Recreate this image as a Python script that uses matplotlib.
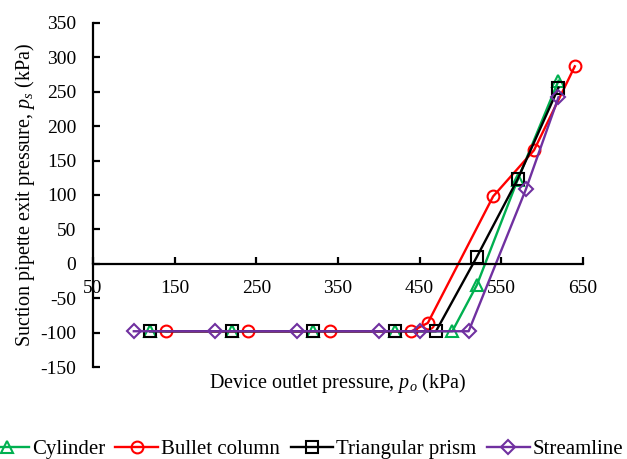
import matplotlib
matplotlib.use("Agg")
import matplotlib.pyplot as plt

plt.rcParams["font.family"] = ["Liberation Serif", "DejaVu Serif"]
plt.rcParams["mathtext.fontset"] = "custom"
plt.rcParams["mathtext.rm"] = "Liberation Serif"
plt.rcParams["mathtext.it"] = "Liberation Serif:italic"
plt.rcParams["axes.unicode_minus"] = False

# Device outlet pressure (kPa) and suction pipette exit pressure (kPa)
cyl_x = [120, 220, 320, 420, 490, 520, 570, 620]
cyl_y = [-98, -98, -98, -98, -98, -31, 122, 266]

bullet_x = [140, 240, 340, 440, 460, 540, 590, 640]
bullet_y = [-98, -98, -98, -98, -86, 98, 165, 287]

prism_x = [120, 220, 320, 420, 470, 520, 570, 620]
prism_y = [-98, -98, -98, -98, -98, 10, 123, 256]

stream_x = [100, 200, 300, 400, 450, 510, 580, 620]
stream_y = [-98, -98, -98, -98, -98, -98, 108, 242]

series = [
    ("Cylinder", cyl_x, cyl_y, "#00B050", "^"),
    ("Bullet column", bullet_x, bullet_y, "#FF0000", "o"),
    ("Triangular prism", prism_x, prism_y, "#000000", "s"),
    ("Streamline", stream_x, stream_y, "#7030A0", "D"),
]

x_ticks = [50, 150, 250, 350, 450, 550, 650]
y_ticks = [-150, -100, -50, 0, 50, 100, 150, 200, 250, 300, 350]

fig = plt.figure(figsize=(6.27, 4.59), dpi=100)
ax = fig.add_axes([0.1483, 0.2004, 0.7815, 0.7496])

for name, xs, ys, color, marker in series:
    ms = 7 if marker == "D" else 8.5
    ax.plot(xs, ys, color=color, lw=1.7, marker=marker, ms=ms,
            mfc="none", mec=color, mew=1.5, label=name)

ax.set_xlim(50, 650)
ax.set_ylim(-150, 350)
ax.set_xticks(x_ticks)
ax.set_yticks(y_ticks)

ax.spines["top"].set_visible(False)
ax.spines["right"].set_visible(False)
ax.spines["bottom"].set_position(("data", 0))
for sp in ("left", "bottom"):
    ax.spines[sp].set_linewidth(1.6)

ax.tick_params(axis="both", direction="in", length=5, width=1.6,
               labelsize=14, pad=12)

fig.text(0.539, 1 - 383 / 459, "Device outlet pressure, $p_o$ (kPa)",
         fontsize=14.5, ha="center", va="center")
fig.text(25 / 627, 1 - 195 / 459, "Suction pipette exit pressure, $p_s$ (kPa)",
         fontsize=14.5, ha="center", va="center", rotation=90)

leg = fig.legend(loc="center", bbox_to_anchor=(0.486, 1 - 449 / 459),
                 ncol=4, frameon=False, fontsize=15, handlelength=2.05,
                 handletextpad=0.15, columnspacing=0.5)

fig.savefig("out.png", dpi=100)
